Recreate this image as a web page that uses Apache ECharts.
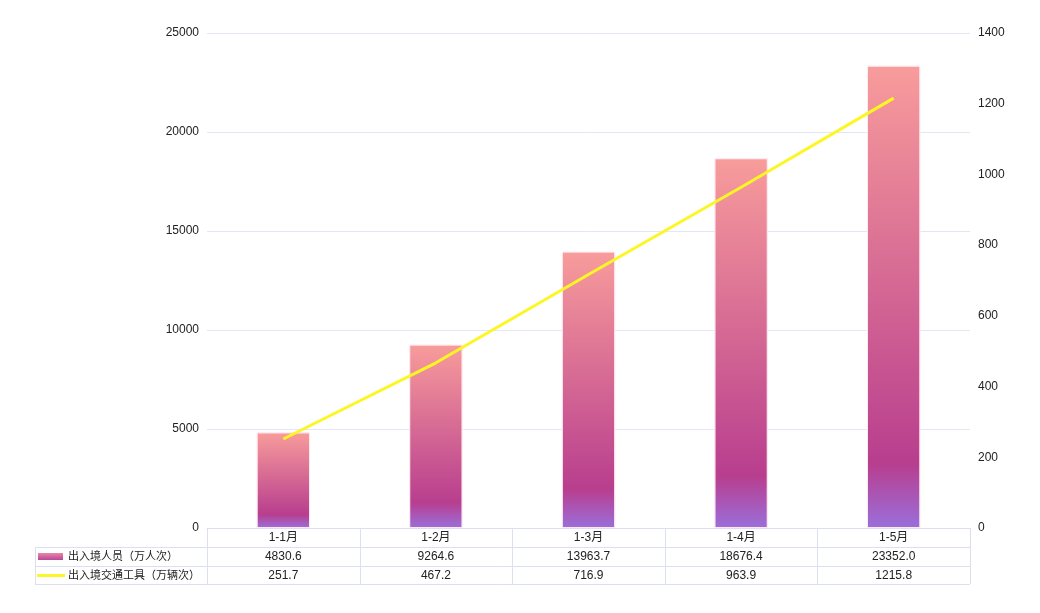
<!DOCTYPE html>
<html><head><meta charset="utf-8">
<script src="https://cdn.jsdelivr.net/npm/echarts@6/dist/echarts.min.js"></script>
<style>html,body{margin:0;padding:0;background:#fff}#c{width:1040px;height:613px}</style>
</head><body><div id="c"></div>
<script>
const categories = ['1-1月','1-2月','1-3月','1-4月','1-5月'];
const personValues = [4830.6, 9264.6, 13963.7, 18676.4, 23352.0];
const vehicleValues = [251.7, 467.2, 716.9, 963.9, 1215.8];
const seriesNames = ['出入境人员（万人次）','出入境交通工具（万辆次）'];
const leftTicks = {min:0, max:25000, interval:5000};
const rightTicks = {min:0, max:1400, interval:200};

const FONT = 'Arial, "Liberation Sans", "Noto Sans CJK SC", sans-serif';
const TXT = '#222';
const LINE = '#dcdff0';
const YELLOW = '#fdf626';
const barGrad = new echarts.graphic.LinearGradient(0,0,0,1,[
  {offset:0,color:'#f89c9b'},
  {offset:0.86,color:'#b83e8e'},
  {offset:1,color:'#9a6fdb'}
]);

const chart = echarts.init(document.getElementById('c'), null, {renderer:'canvas'});
const option = {
  animation:false,
  textStyle:{fontFamily:FONT},
  grid:{left:207, right:70, top:33, bottom:85},
  xAxis:{type:'category', data:categories,
    axisLine:{lineStyle:{color:LINE}}, axisTick:{show:false},
    axisLabel:{color:TXT, fontSize:12, margin:4, fontFamily:FONT}},
  yAxis:[
    {type:'value', min:leftTicks.min, max:leftTicks.max, interval:leftTicks.interval,
     axisLabel:{color:TXT, fontSize:12, margin:8, fontFamily:FONT, formatter:(v)=>String(v)},
     splitLine:{lineStyle:{color:'#e3e6f3'}}, axisLine:{show:false}, axisTick:{show:false}},
    {type:'value', min:rightTicks.min, max:rightTicks.max, interval:rightTicks.interval,
     axisLabel:{color:TXT, fontSize:12, margin:8, fontFamily:FONT, formatter:(v)=>String(v)},
     splitLine:{show:false}, axisLine:{show:false}, axisTick:{show:false}}
  ],
  series:[
    {name:seriesNames[0], type:'bar', data:personValues, barWidth:'35%',
     itemStyle:{color:barGrad, borderColor:'rgba(255,235,240,0.8)', borderWidth:1}},
    {name:seriesNames[1], type:'line', yAxisIndex:1, data:vehicleValues, symbol:'none',
     lineStyle:{color:YELLOW, width:3}, itemStyle:{color:YELLOW}, z:5}
  ]
};
chart.setOption(option);

// data table below the axis
const y0 = chart.convertToPixel({yAxisIndex:0}, 0);
const centers = categories.map((c)=>chart.convertToPixel({xAxisIndex:0}, c));
const step = centers.length>1 ? centers[1]-centers[0] : 150;
const xL = centers[0]-step/2, xR = centers[centers.length-1]+step/2;
const rowH = 19;
const legendX = 35;
const els = [];
const line = (x1,y1,x2,y2)=>els.push({type:'line', shape:{x1,y1,x2,y2}, style:{stroke:LINE, lineWidth:1}, silent:true});
for (let r=1;r<=3;r++){ const y=Math.round(y0+r*rowH-(r===3?1:0))+0.5; line(legendX,y,xR,y); }
for (let i=0;i<=categories.length;i++){ const x=Math.round(xL+i*step)+0.5; line(x,y0,x,y0+3*rowH-1); }
line(legendX+0.5,y0+rowH,legendX+0.5,y0+3*rowH-1);
const rows=[personValues, vehicleValues];
rows.forEach((vals,r)=>{
  vals.forEach((v,i)=>{
    els.push({type:'text', x:centers[i], y:y0+(r+1)*rowH+rowH/2, silent:true,
      style:{text:v.toFixed(1), fill:TXT, font:'12px '+FONT, align:'center', verticalAlign:'middle'}});
  });
  els.push({type:'text', x:legendX+33, y:y0+(r+1)*rowH+rowH/2, silent:true,
    style:{text:seriesNames[r], fill:TXT, font:'11px '+FONT, align:'left', verticalAlign:'middle'}});
});
els.push({type:'rect', shape:{x:legendX+3, y:y0+rowH+6, width:25, height:7}, silent:true,
  style:{fill:new echarts.graphic.LinearGradient(0,0,0,1,[{offset:0,color:'#e987a6'},{offset:1,color:'#b8459a'}])}});
els.push({type:'line', shape:{x1:legendX+2, y1:y0+2*rowH+rowH/2, x2:legendX+30, y2:y0+2*rowH+rowH/2}, silent:true,
  style:{stroke:YELLOW, lineWidth:3}});
chart.setOption({graphic:els});
</script></body></html>
